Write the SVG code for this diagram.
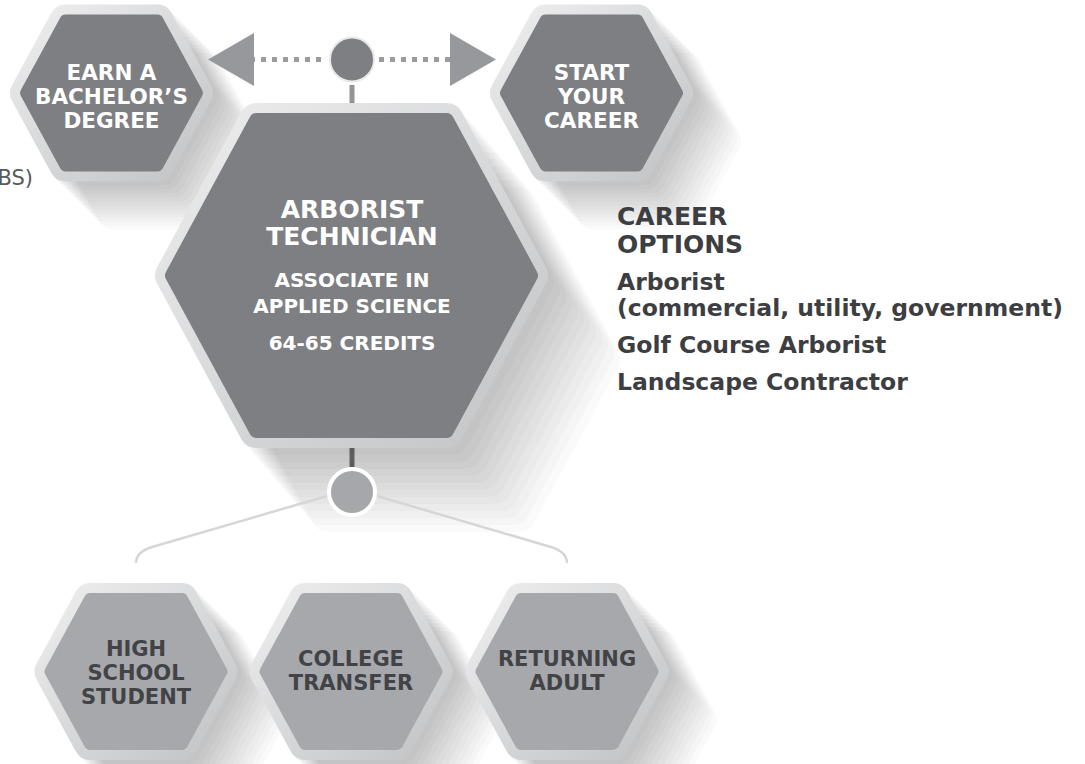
<svg xmlns="http://www.w3.org/2000/svg" xmlns:xlink="http://www.w3.org/1999/xlink" width="1085" height="764" viewBox="0 0 1085 764">
<style>
.sh{fill:#000;stroke:#000;stroke-linejoin:round;opacity:.014}
.ringS{fill:url(#ring);stroke:url(#ring);stroke-width:32;stroke-linejoin:round}
.ringC{fill:url(#ring);stroke:url(#ring);stroke-width:35;stroke-linejoin:round}
.coreT{fill:#7e7f83;stroke:#7e7f83;stroke-width:12;stroke-linejoin:round}
.coreB{fill:#a7a8ab;stroke:#a7a8ab;stroke-width:12;stroke-linejoin:round}
.coreC{fill:#7e7f83;stroke:#7e7f83;stroke-width:15;stroke-linejoin:round}
.tw{font-family:"DejaVu Sans",sans-serif;font-weight:bold;fill:#ffffff;text-anchor:middle}
.td{font-family:"DejaVu Sans",sans-serif;font-weight:bold;fill:#424346;text-anchor:middle;font-size:21px}
.opt{font-family:"DejaVu Sans",sans-serif;font-weight:bold;fill:#3d3e41}
.dot{stroke:#9a9b9e;stroke-width:5;stroke-dasharray:5 6;fill:none}
.br{fill:none;stroke:#d6d6d7;stroke-width:2.5}
</style>
<defs>
<linearGradient id="ring" x1="0" y1="0" x2="1" y2="1">
<stop offset="0" stop-color="#ececed"/>
<stop offset="0.55" stop-color="#d6d7d8"/>
<stop offset="1" stop-color="#c4c5c7"/>
</linearGradient>
<polygon id="hexS" points="-85.5,0 -46,-72.5 46,-72.5 85.5,0 46,72.5 -46,72.5"/>
<polygon id="hexC" points="-179,0 -95,-155 95,-155 179,0 95,155 -95,155"/>
<g id="shS" stroke-width="32">
<use href="#hexS" class="sh" transform="translate(4,4)"/>
<use href="#hexS" class="sh" transform="translate(8,8)"/>
<use href="#hexS" class="sh" transform="translate(12,12)"/>
<use href="#hexS" class="sh" transform="translate(16,16)"/>
<use href="#hexS" class="sh" transform="translate(20,20)"/>
<use href="#hexS" class="sh" transform="translate(24,24)"/>
<use href="#hexS" class="sh" transform="translate(28,28)"/>
<use href="#hexS" class="sh" transform="translate(32,32)"/>
<use href="#hexS" class="sh" transform="translate(36,36)"/>
<use href="#hexS" class="sh" transform="translate(40,40)"/>
<use href="#hexS" class="sh" transform="translate(44,44)"/>
<use href="#hexS" class="sh" transform="translate(48,48)"/>
</g>
<g id="shC" stroke-width="35">
<use href="#hexC" class="sh" transform="translate(6,7)"/>
<use href="#hexC" class="sh" transform="translate(12,14)"/>
<use href="#hexC" class="sh" transform="translate(18,21)"/>
<use href="#hexC" class="sh" transform="translate(24,28)"/>
<use href="#hexC" class="sh" transform="translate(30,35)"/>
<use href="#hexC" class="sh" transform="translate(36,42)"/>
<use href="#hexC" class="sh" transform="translate(42,49)"/>
<use href="#hexC" class="sh" transform="translate(48,56)"/>
<use href="#hexC" class="sh" transform="translate(54,63)"/>
<use href="#hexC" class="sh" transform="translate(60,70)"/>
<use href="#hexC" class="sh" transform="translate(66,77)"/>
<use href="#hexC" class="sh" transform="translate(72,84)"/>
</g>
<marker id="tri" markerUnits="userSpaceOnUse" markerWidth="47" markerHeight="54" viewBox="0 0 47 54" refX="0" refY="26.5" orient="auto" overflow="visible">
<path d="M0,0 L46,26.5 L0,53 Z" fill="#97989b"/>
</marker>
</defs>

<rect width="1085" height="764" fill="#ffffff"/>

<g id="shadows">
<use href="#shS" transform="translate(111.5,93)"/>
<use href="#shS" transform="translate(591.5,93)"/>
<use href="#shC" transform="translate(351.5,275.5)"/>
<use href="#shS" transform="translate(136,671.5)"/>
<use href="#shS" transform="translate(351,671.5)"/>
<use href="#shS" transform="translate(567,671.5)"/>
</g>

<text id="partial-label" x="33" y="185" text-anchor="end" font-family="'DejaVu Sans',sans-serif" font-size="21" fill="#58595b">BS)</text>

<g id="connectors">
<line class="dot" x1="321" y1="59.5" x2="254" y2="59.5" marker-end="url(#tri)"/>
<line class="dot" x1="379" y1="59.5" x2="450" y2="59.5" marker-end="url(#tri)"/>
<rect x="349.5" y="85" width="5" height="18" fill="#939497"/>
<rect x="349.5" y="448" width="5" height="19" fill="#5d5e61"/>
<path class="br" d="M327,496 L152,547 Q136,552 136,563"/>
<path class="br" d="M377,496 L551,547 Q567,552 567,563"/>
<circle cx="352" cy="59.5" r="22" fill="#7e7f83" stroke="#e9e9ea" stroke-width="2"/>
<circle cx="352" cy="492" r="23" fill="#a6a7aa" stroke="#ffffff" stroke-width="4"/>
</g>

<g id="earn-bachelors" transform="translate(111.5,93)">
<use href="#hexS" class="ringS"/>
<use href="#hexS" class="coreT"/>
<text class="tw" font-size="21.5"><tspan x="0" y="-13">EARN A</tspan><tspan x="0" y="11">BACHELOR’S</tspan><tspan x="0" y="35">DEGREE</tspan></text>
</g>

<g id="start-career" transform="translate(591.5,93)">
<use href="#hexS" class="ringS"/>
<use href="#hexS" class="coreT"/>
<text class="tw" font-size="21.5"><tspan x="0" y="-13">START</tspan><tspan x="0" y="11">YOUR</tspan><tspan x="0" y="35">CAREER</tspan></text>
</g>

<g id="arborist-technician" transform="translate(351.5,275.5)">
<use href="#hexC" class="ringC"/>
<use href="#hexC" class="coreC"/>
<text class="tw" font-size="25"><tspan x="0.5" y="-57.5">ARBORIST</tspan><tspan x="0.5" y="-30.5">TECHNICIAN</tspan></text>
<text class="tw" font-size="20"><tspan x="0.5" y="11.5">ASSOCIATE IN</tspan><tspan x="0.5" y="37.5">APPLIED SCIENCE</tspan><tspan x="0.5" y="74.5">64-65 CREDITS</tspan></text>
</g>

<g id="high-school-student" transform="translate(136,671.5)">
<use href="#hexS" class="ringS"/>
<use href="#hexS" class="coreB"/>
<text class="td"><tspan x="0" y="-15.5">HIGH</tspan><tspan x="0" y="8.5">SCHOOL</tspan><tspan x="0" y="32.5">STUDENT</tspan></text>
</g>

<g id="college-transfer" transform="translate(351,671.5)">
<use href="#hexS" class="ringS"/>
<use href="#hexS" class="coreB"/>
<text class="td"><tspan x="0" y="-5.5">COLLEGE</tspan><tspan x="0" y="18.5">TRANSFER</tspan></text>
</g>

<g id="returning-adult" transform="translate(567,671.5)">
<use href="#hexS" class="ringS"/>
<use href="#hexS" class="coreB"/>
<text class="td"><tspan x="0" y="-5.5">RETURNING</tspan><tspan x="0" y="18.5">ADULT</tspan></text>
</g>

<g id="career-options">
<text class="opt" font-size="25"><tspan x="617" y="225">CAREER</tspan><tspan x="617" y="253">OPTIONS</tspan></text>
<text class="opt" font-size="23.5"><tspan x="617" y="290">Arborist</tspan><tspan x="617" y="316">(commercial, utility, government)</tspan><tspan x="617" y="353">Golf Course Arborist</tspan><tspan x="617" y="390">Landscape Contractor</tspan></text>
</g>
</svg>
